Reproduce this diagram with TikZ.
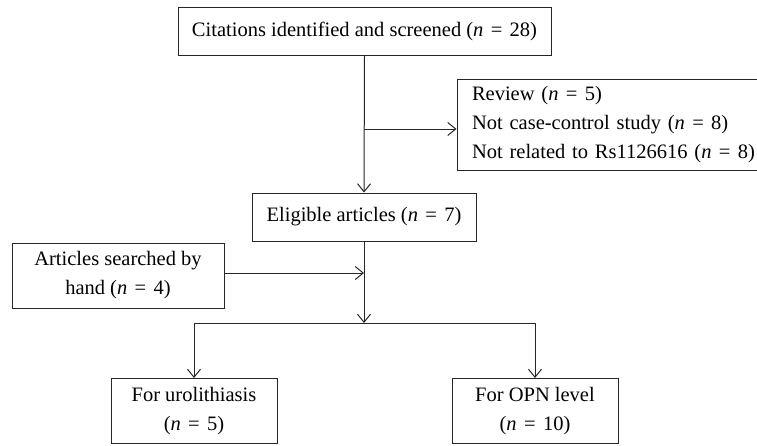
\documentclass[tikz,border=0pt]{standalone}
\usepackage{fontspec}
\setmainfont{Liberation Serif}
\usetikzlibrary{arrows.meta}
\newcommand\nval[1]{(\textit{n}\hspace{.36em}=\hspace{.36em}#1)}
\begin{document}
\begin{tikzpicture}[x=1pt,y=-1pt,
  box/.style={draw=black!85,line width=1pt,inner sep=0pt,align=center,font=\fontsize{20.5}{29}\selectfont},
  conn/.style={draw=black!85,line width=1pt},
  arr/.style={conn,-{Straight Barb[length=8pt,width=13pt,line width=1pt]}}]
\useasboundingbox (0,0) rectangle (757,445);
\node[box,minimum width=373pt,minimum height=48pt] (top) at (364.5,31) {Citations identified and screened \nval{28}};
\node[box,minimum height=91pt,text width=290pt,inner xsep=15pt,align=left] (excl) at (617,125) {Review \nval{5}\\Not case-control study \nval{8}\\Not related to Rs1126616 \nval{8}};
\node[box,minimum width=224pt,minimum height=48pt] (elig) at (364,217) {Eligible articles \nval{7}};
\node[box,minimum width=212pt,minimum height=65pt] (hand) at (118,275.5) {Articles searched by\\hand \nval{4}};
\node[box,minimum width=166pt,minimum height=65pt] (uro) at (194,411) {For urolithiasis\\\nval{5}};
\node[box,minimum width=166pt,minimum height=65pt] (opn) at (535,411) {For OPN level\\\nval{10}};
\coordinate (j1) at (364,129);
\coordinate (j2) at (364,273);
\coordinate (j3) at (364,323);
\draw[arr] (top.south) -- (elig.north);
\draw[arr] (j1) -- (j1 -| excl.west);
\draw[arr] (hand.east |- j2) -- (j2);
\draw[arr] (elig.south) -- (j3);
\draw[arr] (j3) -| (uro.north);
\draw[arr] (j3) -| (opn.north);
\end{tikzpicture}
\end{document}
